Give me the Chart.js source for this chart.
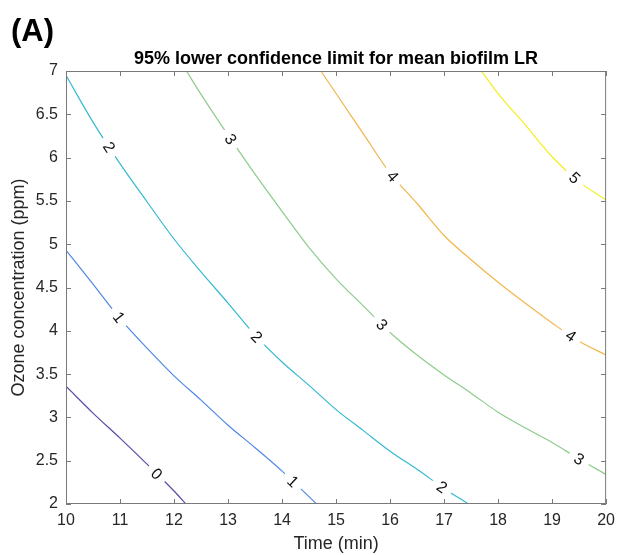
<!DOCTYPE html>
<html>
<head>
<meta charset="utf-8">
<script src="https://cdn.jsdelivr.net/npm/chart.js@4.4.1/dist/chart.umd.min.js"></script>
<style>
  body { margin: 0; background: #fff; }
  #wrap { width: 622px; height: 555px; position: relative; }
</style>
</head>
<body>
<div id="wrap"><canvas id="contourChart"></canvas></div>
<script>
// contour levels (LR) and their traced lines: time (min) vs ozone (ppm)
const levels = [0, 1, 2, 3, 4, 5];
const levelColors = ['#5b4ba8', '#4f88e6', '#35b9d2', '#8dcc8b', '#f1b64c', '#f1ef1c'];

const time0 = [10, 10.5, 11, 11.5, 12, 12.22];
const ozone0 = [3.36, 3.05, 2.76, 2.46, 2.15, 2.0];
const time1 = [10, 10.5, 11, 11.5, 12, 12.5, 13, 13.5, 14, 14.64];
const ozone1 = [4.93, 4.54, 4.14, 3.8, 3.48, 3.2, 2.91, 2.65, 2.38, 2.0];
const time2 = [10, 10.5, 11, 11.5, 12, 12.5, 13, 13.5, 14, 14.5, 15, 15.5, 16, 16.5, 17, 17.45];
const ozone2 = [6.95, 6.41, 5.93, 5.49, 5.06, 4.68, 4.32, 3.95, 3.64, 3.37, 3.09, 2.85, 2.61, 2.4, 2.18, 2.0];
const time3 = [12.23, 12.5, 13, 13.5, 14, 14.5, 15, 15.5, 16, 16.5, 17, 17.5, 18, 18.5, 19, 19.5, 20];
const ozone3 = [7.0, 6.73, 6.26, 5.81, 5.38, 4.96, 4.6, 4.29, 3.98, 3.72, 3.49, 3.28, 3.06, 2.88, 2.71, 2.52, 2.34];
const time4 = [14.72, 15, 15.5, 16, 16.5, 17, 17.5, 18, 18.5, 19, 19.5, 20];
const ozone4 = [7.0, 6.74, 6.28, 5.82, 5.47, 5.1, 4.82, 4.56, 4.32, 4.09, 3.88, 3.72];
const time5 = [17.69, 18, 18.5, 19, 19.5, 20];
const ozone5 = [7.0, 6.74, 6.38, 6.01, 5.72, 5.51];

// inline contour labels: which level, at what time
const labelLevel = [0, 1, 1, 2, 2, 2, 3, 3, 3, 4, 4, 5];
const labelTime = [11.68, 10.98, 14.2, 10.8, 13.53, 16.96, 13.05, 15.85, 19.5, 16.05, 19.35, 19.42];

const xTicks = [10, 11, 12, 13, 14, 15, 16, 17, 18, 19, 20];
const yTicks = [2, 2.5, 3, 3.5, 4, 4.5, 5, 5.5, 6, 6.5, 7];

const times = [time0, time1, time2, time3, time4, time5];
const ozones = [ozone0, ozone1, ozone2, ozone3, ozone4, ozone5];

const textColor = '#262626';
const fontFamily = '"Liberation Sans", Arial, sans-serif';

const datasets = levels.map((lv, i) => ({
    label: String(lv),
    data: times[i].map((t, j) => ({ x: t, y: ozones[i][j] })),
    showLine: true,
    borderColor: levelColors[i],
    borderWidth: 1.2,
    pointRadius: 0,
    cubicInterpolationMode: 'monotone',
    fill: false
}));

// find ozone on a level's line at a given time, plus the segment for the angle
function pointOnLevel(lv, t) {
    const xs = times[lv], ys = ozones[lv];
    for (let j = 0; j < xs.length - 1; j++) {
        if (t >= xs[j] && t <= xs[j + 1]) {
            const f = (t - xs[j]) / (xs[j + 1] - xs[j]);
            return { y: ys[j] + f * (ys[j + 1] - ys[j]), j: j };
        }
    }
    return { y: ys[ys.length - 1], j: xs.length - 2 };
}

const contourLabels = {
    id: 'contourLabels',
    afterDatasetsDraw(chart) {
        const ctx = chart.ctx;
        const xs = chart.scales.x, ys = chart.scales.y;
        ctx.save();
        ctx.font = '16px ' + fontFamily;
        ctx.textAlign = 'center';
        ctx.textBaseline = 'middle';
        labelLevel.forEach((lv, k) => {
            const t = labelTime[k];
            const p = pointOnLevel(lv, t);
            const j = p.j;
            const px = xs.getPixelForValue(t);
            const py = ys.getPixelForValue(p.y);
            const dx = xs.getPixelForValue(times[lv][j + 1]) - xs.getPixelForValue(times[lv][j]);
            const dy = ys.getPixelForValue(ozones[lv][j + 1]) - ys.getPixelForValue(ozones[lv][j]);
            const ang = Math.atan2(dy, dx);
            ctx.save();
            ctx.translate(px, py);
            ctx.rotate(ang);
            ctx.fillStyle = '#fff';
            ctx.fillRect(-11, -8, 22, 16);
            ctx.fillStyle = '#111';
            ctx.fillText(String(levels[lv]), 0, 1);
            ctx.restore();
        });
        ctx.restore();
    }
};

const frame = {
    id: 'frame',
    afterDraw(chart) {
        const ctx = chart.ctx;
        const a = chart.chartArea;
        const xs = chart.scales.x, ys = chart.scales.y;
        ctx.save();
        ctx.strokeStyle = '#7a7a7a';
        ctx.lineWidth = 1;
        ctx.strokeRect(a.left + 0.5, a.top + 0.5, a.right - a.left - 1, a.bottom - a.top - 1);
        ctx.beginPath();
        xTicks.forEach(v => {
            const x = Math.round(xs.getPixelForValue(v)) + 0.5;
            ctx.moveTo(x, a.bottom); ctx.lineTo(x, a.bottom - 5);
            ctx.moveTo(x, a.top); ctx.lineTo(x, a.top + 5);
        });
        yTicks.forEach(v => {
            const y = Math.round(ys.getPixelForValue(v)) + 0.5;
            ctx.moveTo(a.left, y); ctx.lineTo(a.left + 5, y);
            ctx.moveTo(a.right, y); ctx.lineTo(a.right - 5, y);
        });
        ctx.stroke();

        ctx.fillStyle = '#000';
        ctx.textBaseline = 'alphabetic';
        ctx.textAlign = 'center';
        ctx.font = 'bold 18px ' + fontFamily;
        ctx.fillText('95% lower confidence limit for mean biofilm LR', (a.left + a.right) / 2, 64);
        ctx.textAlign = 'left';
        ctx.font = 'bold 31px ' + fontFamily;
        ctx.fillText('(A)', 11, 41);
        ctx.restore();
    }
};

new Chart(document.getElementById('contourChart'), {
    type: 'scatter',
    data: { datasets: datasets },
    options: {
        responsive: true,
        maintainAspectRatio: false,
        animation: false,
        layout: { padding: { top: 71, right: 9, left: 0, bottom: 0 } },
        plugins: {
            legend: { display: false },
            tooltip: { enabled: false }
        },
        scales: {
            x: {
                type: 'linear',
                min: 10,
                max: 20,
                afterFit: s => { s.height = 51; },
                afterBuildTicks: s => { s.ticks = xTicks.map(v => ({ value: v })); },
                grid: { display: false, drawTicks: false },
                border: { display: false },
                ticks: { color: textColor, font: { size: 16, family: fontFamily }, padding: 7, maxRotation: 0 },
                title: { display: true, text: 'Time (min)', color: textColor, font: { size: 18, family: fontFamily }, padding: { top: 0, bottom: 0 } }
            },
            y: {
                type: 'linear',
                min: 2,
                max: 7,
                afterFit: s => { s.width = 66; },
                afterBuildTicks: s => { s.ticks = yTicks.map(v => ({ value: v })); },
                grid: { display: false, drawTicks: false },
                border: { display: false },
                ticks: { color: textColor, font: { size: 16, family: fontFamily }, padding: 8, callback: v => String(v) },
                title: { display: true, text: 'Ozone concentration (ppm)', color: textColor, font: { size: 18, family: fontFamily }, padding: { top: 8, bottom: 0 } }
            }
        }
    },
    plugins: [contourLabels, frame]
});
</script>
</body>
</html>
